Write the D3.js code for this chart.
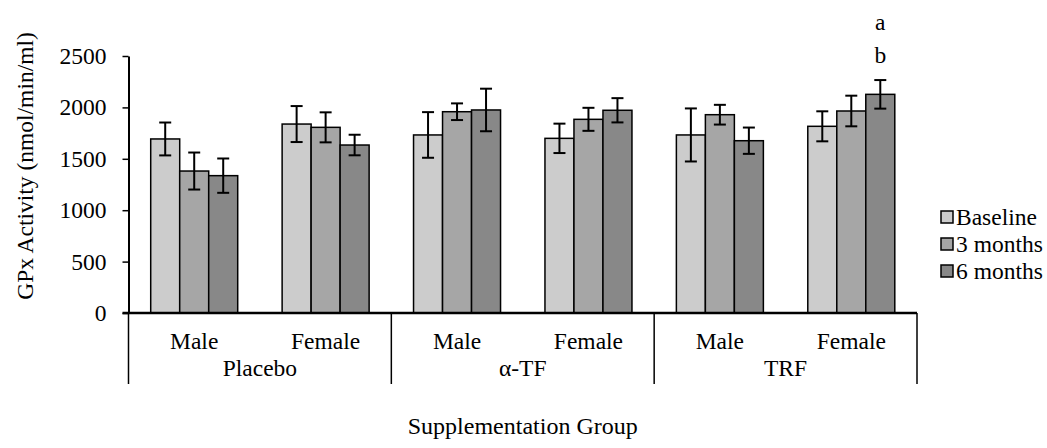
<!DOCTYPE html>
<html>
<head>
<meta charset="utf-8">
<script src="https://cdn.jsdelivr.net/npm/d3@7"></script>
<style>
html,body{margin:0;padding:0;background:#fff;}
svg{display:block;font-family:"Liberation Serif","Times New Roman",serif;}
</style>
</head>
<body>
<svg id="chart" width="1047" height="448"></svg>
<script>
const categories = ["Male","Female","Male","Female","Male","Female"];
const groups = ["Placebo","α-TF","TRF"];
const series = ["Baseline","3 months","6 months"];
const baseline = [1693,1838,1732,1699,1732,1816];
const month3 = [1381,1806,1958,1884,1929,1965];
const month6 = [1336,1634,1975,1972,1676,2127];
const errBaseline = [160,175,222,143,258,146];
const err3 = [180,146,81,112,96,149];
const err6 = [167,100,207,118,128,139];
const yTicks = [0,500,1000,1500,2000,2500];
const annotations = ["a","b"];
const colors = ["#cccccc","#a6a6a6","#888888"];

(function(){
const values = [baseline, month3, month6];
const errors = [errBaseline, err3, err6];

const svg = d3.select("#chart");
const pLeft = 128.5, pRight = 917, pTop = 56, pBottom = 313;
const fontSize = 23.5;

const x = d3.scaleBand().domain(d3.range(categories.length)).range([pLeft, pRight])
  .paddingInner(0.338).paddingOuter(0.169);
const xs = d3.scaleBand().domain(d3.range(series.length)).range([0, x.bandwidth()]);
const y = d3.scaleLinear().domain([0, 2500]).range([pBottom, pTop]);

// bars
series.forEach((s, si) => {
  svg.append("g").selectAll("rect").data(values[si]).join("rect")
    .attr("x", (d, i) => x(i) + xs(si))
    .attr("y", d => y(d))
    .attr("width", xs.bandwidth())
    .attr("height", d => y(0) - y(d))
    .attr("fill", colors[si])
    .attr("stroke", "#000")
    .attr("stroke-width", 1.5);
});

// error bars
series.forEach((s, si) => {
  const g = svg.append("g").attr("stroke", "#000").attr("stroke-width", 2);
  values[si].forEach((v, i) => {
    const cx = x(i) + xs(si) + xs.bandwidth() / 2;
    const e = errors[si][i];
    g.append("line").attr("x1", cx).attr("x2", cx).attr("y1", y(v + e)).attr("y2", y(v - e));
    g.append("line").attr("x1", cx - 6).attr("x2", cx + 6).attr("y1", y(v + e)).attr("y2", y(v + e));
    g.append("line").attr("x1", cx - 6).attr("x2", cx + 6).attr("y1", y(v - e)).attr("y2", y(v - e));
  });
});

// y axis
const yAxis = svg.append("g").attr("transform", `translate(${pLeft},0)`)
  .call(d3.axisLeft(y).tickValues(yTicks).tickFormat(d3.format("d")).tickSize(6).tickPadding(16).tickSizeOuter(0));
yAxis.select(".domain").attr("stroke", "#000").attr("stroke-width", 2);
yAxis.selectAll(".tick line").attr("stroke", "#000").attr("stroke-width", 1.5);
yAxis.selectAll(".tick text").attr("font-size", fontSize).attr("font-family", "Liberation Serif").attr("fill", "#000");

// x baseline
svg.append("line").attr("x1", pLeft - 6).attr("x2", pRight).attr("y1", y(0)).attr("y2", y(0))
  .attr("stroke", "#000").attr("stroke-width", 2.5);

// category labels
svg.append("g").selectAll("text").data(categories).join("text")
  .attr("x", (d, i) => x(i) + x.bandwidth() / 2)
  .attr("y", 349)
  .attr("text-anchor", "middle")
  .attr("font-size", fontSize)
  .text(d => d);

// group dividers and labels
const groupWidth = (pRight - pLeft) / groups.length;
d3.range(groups.length + 1).forEach(k => {
  const gx = pLeft + k * groupWidth;
  svg.append("line").attr("x1", gx).attr("x2", gx).attr("y1", y(0)).attr("y2", 384)
    .attr("stroke", "#000").attr("stroke-width", 1.5);
});
svg.append("g").selectAll("text").data(groups).join("text")
  .attr("x", (d, i) => pLeft + (i + 0.5) * groupWidth)
  .attr("y", 376)
  .attr("text-anchor", "middle")
  .attr("font-size", fontSize)
  .text(d => d);

// axis titles
svg.append("text").attr("x", (pLeft + pRight) / 2).attr("y", 434)
  .attr("text-anchor", "middle").attr("font-size", 24)
  .text("Supplementation Group");
svg.append("text").attr("transform", "translate(33,166) rotate(-90)")
  .attr("text-anchor", "middle").attr("font-size", fontSize)
  .text("GPx Activity (nmol/min/ml)");

// legend
const legend = svg.append("g");
series.forEach((s, si) => {
  const ly = 217 + si * 27;
  legend.append("rect").attr("x", 941).attr("y", ly - 6).attr("width", 12).attr("height", 12)
    .attr("fill", colors[si]).attr("stroke", "#000").attr("stroke-width", 1.5);
  legend.append("text").attr("x", 956).attr("y", ly + 8).attr("font-size", fontSize).text(s);
});

// annotations
const annIdx = 5, annSeries = 2;
const ax = x(annIdx) + xs(annSeries) + xs.bandwidth() / 2;
svg.append("g").selectAll("text").data(annotations).join("text")
  .attr("x", ax).attr("y", (d, i) => 30 + i * 33)
  .attr("text-anchor", "middle").attr("font-size", fontSize)
  .text(d => d);
})();
</script>
</body>
</html>
